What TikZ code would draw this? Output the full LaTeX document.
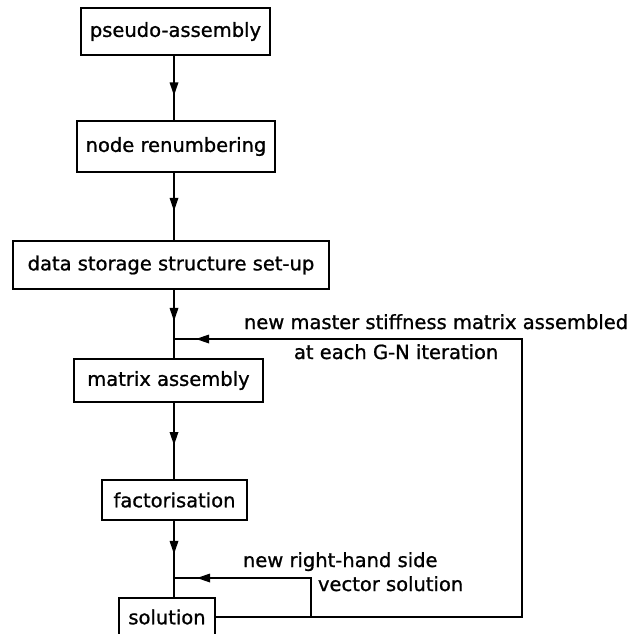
\documentclass[tikz,border=0pt]{standalone}
\usepackage{fontspec}
\newfontfamily\letterfont[FakeBold=1.0]{DejaVu Sans}
\usetikzlibrary{decorations.markings}
\begin{document}
\begin{tikzpicture}[x=1pt,y=-1pt,
  line width=2pt,
  lettering/.style={font=\letterfont\fontsize{19.5}{23}\selectfont},
  stage/.style={draw, inner sep=0pt, lettering},
  note/.style={inner sep=0pt, lettering},
  midarrow/.style={postaction={decorate},
    decoration={markings,mark=at position #1 with
      {\fill (1pt,0pt) -- (-12pt,4.5pt) -- (-12pt,-4.5pt) -- cycle;}}},
]
\useasboundingbox (0,0) rectangle (638,633);
\clip (0,0) rectangle (638,633);

% process stages, stacked on a common spine
\node[stage, minimum width=189pt, minimum height=47pt] (pseudo) at (175.5,31.5) {pseudo-assembly};
\node[stage, minimum width=198pt, minimum height=51pt] (renum) at (176,146.5) {node renumbering};
\node[stage, minimum width=316pt, minimum height=48pt] (data) at (171,265) {data storage structure set-up};
\node[stage, minimum width=189pt, minimum height=43pt] (matrix) at (168.5,380.5) {matrix assembly};
\node[stage, minimum width=145pt, minimum height=40pt] (fact) at (174.5,500) {factorisation};
\node[stage, minimum width=96pt, minimum height=38pt] (sol) at (167,617) {solution};

% spine and loop corners
\coordinate (spine) at (174,0);
\coordinate (j1) at (174,339);
\coordinate (c1) at (522,339);
\coordinate (c2) at (522,617);
\coordinate (j2) at (174,578);
\coordinate (c3) at (311,578);
\coordinate (c4) at (311,617);

% downward flow
\draw[midarrow=0.6] (pseudo.south -| spine) -- (renum.north -| spine);
\draw[midarrow=0.55] (renum.south -| spine) -- (data.north -| spine);
\draw[midarrow=0.44] (data.south -| spine) -- (j1) -- (matrix.north -| spine);
\draw[midarrow=0.54] (matrix.south -| spine) -- (fact.north -| spine);
\draw[midarrow=0.42] (fact.south -| spine) -- (j2) -- (sol.north -| spine);

% feedback loops
\draw[midarrow=-23pt] (sol.east) -- (c4) -- (c2) -- (c1) -- (j1);
\draw[midarrow=-24pt] (c4) -- (c3) -- (j2);

% loop annotations
\node[note, anchor=base west] (t1) at (243,329) {new master stiffness matrix assembled};
\node[note, anchor=base west] (t2) at (293,359) {at each G-N iteration};
\node[note, anchor=base west] (t3) at (242,567) {new right-hand side};
\node[note, anchor=base west] (t4) at (317,591) {vector solution};
\end{tikzpicture}
\end{document}
